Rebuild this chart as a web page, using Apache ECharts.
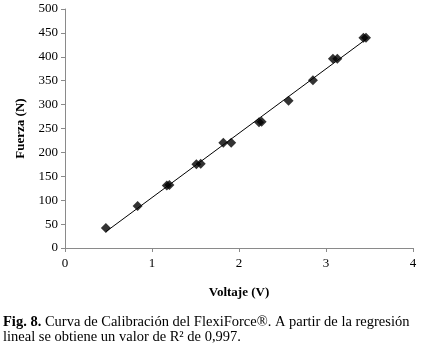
<!DOCTYPE html>
<html>
<head>
<meta charset="utf-8">
<script src="https://cdn.jsdelivr.net/npm/echarts@6/dist/echarts.min.js"></script>
<style>
  html, body { margin: 0; padding: 0; background: #fff; }
  #chart { width: 435px; height: 351px; }
</style>
</head>
<body>
<div id="chart"></div>
<script>
// datos
const voltaje = [0.47, 0.835, 1.17, 1.20, 1.51, 1.56, 1.82, 1.91, 2.23, 2.26, 2.57, 2.85, 3.08, 3.13, 3.43, 3.46]
const fuerza = [42, 88, 131, 132, 175, 176, 220, 220, 263, 264, 308, 351, 396, 396, 440, 440]
const yTicks = [0, 50, 100, 150, 200, 250, 300, 350, 400, 450, 500]
const xTicks = [0, 1, 2, 3, 4]

// regresión lineal por mínimos cuadrados
function regresion(xs, ys) {
  const n = xs.length
  const mx = xs.reduce((a, b) => a + b, 0) / n
  const my = ys.reduce((a, b) => a + b, 0) / n
  let sxy = 0
  let sxx = 0
  for (let i = 0; i < n; i++) {
    sxy += (xs[i] - mx) * (ys[i] - my)
    sxx += (xs[i] - mx) ** 2
  }
  const m = sxy / sxx
  return { m, b: my - m * mx }
}

const { m, b } = regresion(voltaje, fuerza)
const xMin = Math.min(...voltaje)
const xMax = Math.max(...voltaje)
const linea = [[xMin, m * xMin + b], [xMax, m * xMax + b]]
const puntos = voltaje.map((v, i) => [v, fuerza[i]])

const serif = '"Liberation Serif", "DejaVu Serif", serif'
const axisColor = '#8a8a8a'

const chart = echarts.init(document.getElementById('chart'))
chart.setOption({
  animation: false,
  textStyle: { fontFamily: serif },
  grid: { left: 65, right: 22, top: 9, bottom: 103, containLabel: false },
  xAxis: {
    type: 'value',
    min: xTicks[0],
    max: xTicks[xTicks.length - 1],
    interval: 1,
    name: 'Voltaje (V)',
    nameLocation: 'middle',
    nameGap: 38,
    nameTextStyle: { fontFamily: serif, fontWeight: 'bold', fontSize: 13, color: '#000' },
    axisLine: { lineStyle: { color: axisColor, width: 1 } },
    axisTick: { show: true, length: 4, lineStyle: { color: axisColor } },
    axisLabel: { fontFamily: serif, fontSize: 13, color: '#000', margin: 9 },
    splitLine: { show: false },
  },
  yAxis: {
    type: 'value',
    min: yTicks[0],
    max: yTicks[yTicks.length - 1],
    interval: 50,
    name: 'Fuerza (N)',
    nameLocation: 'middle',
    nameGap: 31,
    nameTextStyle: { fontFamily: serif, fontWeight: 'bold', fontSize: 13, color: '#000' },
    axisLine: { show: true, lineStyle: { color: axisColor, width: 1 } },
    axisTick: { show: true, length: 4, lineStyle: { color: axisColor } },
    axisLabel: { fontFamily: serif, fontSize: 13, color: '#000', margin: 7 },
    splitLine: { show: false },
  },
  series: [
    {
      type: 'line',
      data: linea,
      symbol: 'none',
      lineStyle: { color: '#000', width: 1 },
      z: 1,
    },
    {
      type: 'scatter',
      data: puntos,
      symbol: 'diamond',
      symbolSize: 10,
      itemStyle: { color: '#000' },
      z: 2,
    },
  ],
  graphic: [
    {
      type: 'text',
      left: 3,
      top: 315,
      style: {
        text: '{b|Fig. 8.} Curva de Calibración del FlexiForce®. A partir de la regresión\nlineal se obtiene un valor de R² de 0,997.',
        font: `14.5px ${serif}`,
        fill: '#000',
        lineHeight: 15,
        rich: {
          b: { fontWeight: 'bold', fontFamily: serif, fontSize: 14.5 },
        },
      },
    },
  ],
})
</script>
</body>
</html>
